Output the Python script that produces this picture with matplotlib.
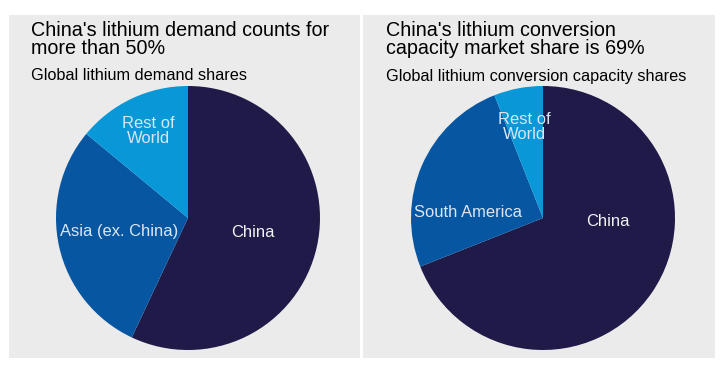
import matplotlib.pyplot as plt
from matplotlib.patches import Rectangle

plt.rcParams['font.family'] = ['Liberation Sans', 'DejaVu Sans']

# donnees
demand_labels = ['China', 'Asia (ex. China)', 'Rest of\nWorld']
demand_shares = [57, 29, 14]
conv_labels = ['China', 'South America', 'Rest of\nWorld']
conv_shares = [69, 25, 6]

col_china = '#1f1a48'
col_mid = '#0656a2'
col_light = '#0898d8'
panel_bg = '#ebebeb'

W, H = 720, 373
fig = plt.figure(figsize=(7.2, 3.73), dpi=100)
fig.patch.set_facecolor('white')

# fonds des deux panneaux (derriere les camemberts)
fig.patches.append(Rectangle((9 / W, 15 / H), 351 / W, 343 / H, transform=fig.transFigure,
                             facecolor=panel_bg, edgecolor='none', zorder=-5))
fig.patches.append(Rectangle((363 / W, 15 / H), 352 / W, 343 / H, transform=fig.transFigure,
                             facecolor=panel_bg, edgecolor='none', zorder=-5))

# titres
def fy(px):
    return (H - px) / H

fig.text(31 / W, fy(21), "China's lithium demand counts for\nmore than 50%", fontsize=14.2,
         color='black', va='top', linespacing=0.92)
fig.text(31 / W, fy(80.5), "Global lithium demand shares", fontsize=11.7, color='black')

fig.text(386 / W, fy(21), "China's lithium conversion\ncapacity market share is 69%", fontsize=14.2,
         color='black', va='top', linespacing=0.92)
fig.text(386 / W, fy(80.5), "Global lithium conversion capacity shares", fontsize=11.7, color='black')

r = 132
def pie_axes(cx, cy):
    ax = fig.add_axes([(cx - r) / W, (H - cy - r) / H, 2 * r / W, 2 * r / H])
    ax.axis('off')
    return ax

# ---- camembert gauche
ax1 = pie_axes(188, 218)
ax1.pie(demand_shares, colors=[col_china, col_mid, col_light], startangle=90,
        counterclock=False, radius=1, wedgeprops=dict(linewidth=0))
ax1.set_xlim(-1, 1)
ax1.set_ylim(-1, 1)
ax1.text(0.49, -0.11, demand_labels[0], color='#f2f2f2', fontsize=11.9, ha='center', va='center')
ax1.text(-0.52, -0.10, demand_labels[1], color='#dde6f0', fontsize=11.9, ha='center', va='center')
ax1.text(-0.30, 0.66, demand_labels[2], color='#d6e7f2', fontsize=11.9, ha='center', va='center',
         linespacing=1.0)

# ---- camembert droit
ax2 = pie_axes(543, 218)
ax2.pie(conv_shares, colors=[col_china, col_mid, col_light], startangle=90,
        counterclock=False, radius=1, wedgeprops=dict(linewidth=0))
ax2.set_xlim(-1, 1)
ax2.set_ylim(-1, 1)
ax2.text(0.49, -0.03, conv_labels[0], color='#f2f2f2', fontsize=11.9, ha='center', va='center')
ax2.text(-0.57, 0.045, conv_labels[1], color='#dde6f0', fontsize=11.9, ha='center', va='center')
ax2.text(-0.14, 0.69, conv_labels[2], color='#d6e7f2', fontsize=11.9, ha='center', va='center',
         linespacing=1.0)

fig.savefig('out.png', dpi=100)
